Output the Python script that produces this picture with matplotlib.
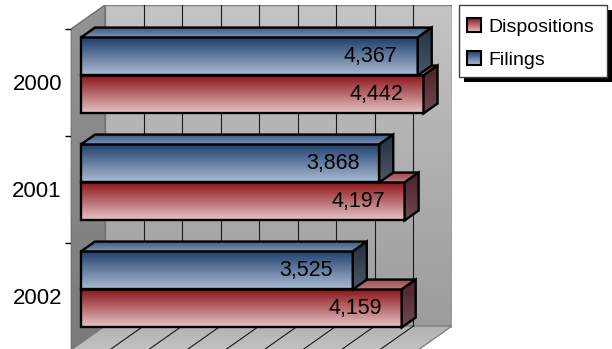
import numpy as np
import matplotlib
matplotlib.use("Agg")
import matplotlib.pyplot as plt
from matplotlib.patches import Polygon, Rectangle, Patch
from matplotlib.colors import LinearSegmentedColormap
from matplotlib.transforms import IdentityTransform, Bbox
from matplotlib.image import BboxImage

# ---- data -------------------------------------------------------------
years = ["2000", "2001", "2002"]
filings = [4367, 3868, 3525]
dispositions = [4442, 4197, 4159]
series_names = ["Dispositions", "Filings"]
x_max = 4500
x_step = 500

plt.rcParams["font.family"] = ["Liberation Sans", "DejaVu Sans"]

W, H = 612, 349
fig = plt.figure(figsize=(W / 100, H / 100), dpi=100)

# ---- pseudo-3D geometry (front plane + depth vector) -------------------
unit_px = 347 / x_max          # pixels per value unit on the front plane
cat_px = 107                   # pixels per category slot
DX = 34 / unit_px              # depth vector in data units
DY = 24 / cat_px
n = len(years)

ax = fig.add_axes([71 / W, (H - 350) / H, (347 + 34) / W, (321 + 24) / H])

bar_h = 38 / cat_px
f_front, f_back = 10 / 34, 24 / 34

zc = [3.0]


def nz():
    zc[0] += 0.01
    return zc[0]


def make_cmap(c_top, c_bot, gamma=1.0):
    return LinearSegmentedColormap.from_list("g", [c_bot, c_top], gamma=gamma)


GRAD = np.linspace(0, 1, 256).reshape(-1, 1)


def grad_face(verts, c_top, c_bot, edge="black", lw=1.7, gamma=1.0):
    z = nz()
    xs, ys = zip(*verts)
    im = ax.imshow(GRAD, cmap=make_cmap(c_top, c_bot, gamma), origin="lower",
                   aspect="auto", interpolation="bilinear",
                   extent=(min(xs), max(xs), min(ys), max(ys)), zorder=z)
    outline = Polygon(verts, closed=True, facecolor="none", edgecolor=edge,
                      lw=lw, zorder=z + 0.005, joinstyle="miter")
    ax.add_patch(outline)
    clip = Polygon(verts, closed=True, transform=ax.transData)
    im.set_clip_path(clip)


def p(x, y, f):
    return (x + f * DX, y + f * DY)


# ---- walls and floor ---------------------------------------------------
grad_face([(DX, DY), (x_max + DX, DY), (x_max + DX, n + DY), (DX, n + DY)],
          "#c4c4c4", "#9c9c9c", edge="#808080", lw=1.0)
grad_face([(0, 0), (DX, DY), (DX, n + DY), (0, n)],
          "#949494", "#7a7a7a", edge="#707070", lw=1.0)
grad_face([(0, 0), (x_max, 0), (x_max + DX, DY), (DX, DY)],
          "#b2b2b2", "#c2c2c2", edge="#808080", lw=1.0)

for g in np.arange(x_step, x_max, x_step):
    z = nz()
    ax.plot([g + DX, g + DX], [DY, n + DY], color="#1a1a1a", lw=0.8, zorder=z)
    ax.plot([g, g + DX], [0, DY], color="#1a1a1a", lw=0.8, zorder=z)

# ---- bars --------------------------------------------------------------
styles = {
    "Dispositions": dict(front=("#8a1418", "#e6c4c6"), top=("#9c4a50", "#b87a80"),
                         side=("#4a2228", "#6e4a50")),
    "Filings": dict(front=("#1e3c6a", "#aabcd4"), top=("#3a5880", "#7a90b0"),
                    side=("#243040", "#4a5868")),
}


def bar3d(v, y0, y1, st):
    grad_face([p(0, y0, f_front), p(v, y0, f_front), p(v, y1, f_front), p(0, y1, f_front)],
              *st["front"])
    grad_face([p(0, y1, f_front), p(v, y1, f_front), p(v, y1, f_back), p(0, y1, f_back)],
              *st["top"])
    grad_face([p(v, y0, f_front), p(v, y0, f_back), p(v, y1, f_back), p(v, y1, f_front)],
              *st["side"])


label_gap = 20 / unit_px
for i, yr in enumerate(years):
    yc = n - 0.5 - i
    # lower bar first, upper bar drawn over it
    for v, y0, y1, name in ((dispositions[i], yc - bar_h, yc, "Dispositions"),
                            (filings[i], yc, yc + bar_h, "Filings")):
        bar3d(v, y0, y1, styles[name])
        lx, ly = p(v - label_gap, (y0 + y1) / 2, f_front)
        ax.text(lx, ly, f"{v:,}", ha="right", va="center", fontsize=15.5,
                color="black", zorder=nz())

# ---- axes --------------------------------------------------------------
ax.set_xlim(0, x_max + DX)
ax.set_ylim(0, n + DY)
for s in ("top", "right", "bottom"):
    ax.spines[s].set_visible(False)
ax.spines["left"].set_bounds(0, n)
ax.spines["left"].set_color("black")
ax.spines["left"].set_linewidth(1.0)
ax.spines["left"].set_zorder(2.9)
ax.set_xticks([])
ax.set_yticks([n - 0.5 - i for i in range(n)], years, fontsize=16)
ax.set_yticks(np.arange(0, n + 1), minor=True)
ax.tick_params(axis="y", which="major", length=0, pad=6.5)
ax.tick_params(axis="y", which="minor", length=4, width=1, color="black")
ax.patch.set_visible(False)

# ---- legend ------------------------------------------------------------
key_colors = [("#8a1418", "#e6c4c6"), ("#1e3c6a", "#aabcd4")]
handles = [Patch(facecolor="none", edgecolor="none") for _ in series_names]
leg = fig.legend(handles, series_names, loc="upper left",
                 bbox_to_anchor=(467 / W, 1 - 18 / H), frameon=False,
                 fontsize=14, handlelength=0.72, handleheight=0.72,
                 handletextpad=0.36, borderpad=0, labelspacing=0.8,
                 borderaxespad=0)
leg.set_zorder(12)

# legend frame with a hard black drop shadow
frame_box = (459, 5, 607, 77)      # left, top, right, bottom in pixels
fx0, fy0 = frame_box[0], H - frame_box[3]
fw, fh = frame_box[2] - frame_box[0], frame_box[3] - frame_box[1]
fig.add_artist(Rectangle((fx0 + 5, fy0 - 5), fw, fh, transform=IdentityTransform(),
                         facecolor="black", edgecolor="none", zorder=9))
fig.add_artist(Rectangle((fx0, fy0), fw, fh, transform=IdentityTransform(),
                         facecolor="white", edgecolor="#404040", lw=1.0, zorder=10))

fig.canvas.draw()
for h, (ct, cb) in zip(leg.legend_handles, key_colors):
    bb = h.get_window_extent()
    bim = BboxImage(Bbox.from_extents(bb.x0, bb.y0, bb.x1, bb.y1),
                    cmap=make_cmap(ct, cb), interpolation="bilinear", origin="lower",
                    zorder=13)
    bim.set_data(GRAD)
    fig.add_artist(bim)
    fig.add_artist(Rectangle((bb.x0, bb.y0), bb.width, bb.height,
                             transform=IdentityTransform(), facecolor="none",
                             edgecolor="black", lw=1.5, zorder=14))

fig.savefig("out.png", dpi=100)
